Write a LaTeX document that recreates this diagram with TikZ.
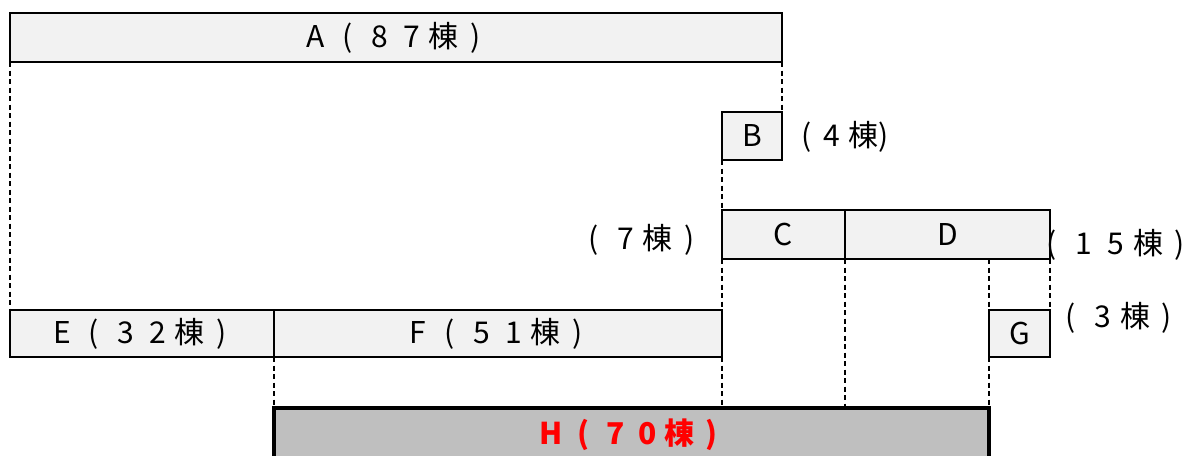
\documentclass[tikz,border=0pt]{standalone}
\usepackage{fontspec}
\setmainfont{Noto Sans CJK JP}
\usetikzlibrary{calc}
\definecolor{boxfill}{HTML}{F2F2F2}
\definecolor{hfill}{HTML}{BFBFBF}
\newcommand\fw[1]{\makebox[32pt]{#1}}
\tikzset{
  bx/.style={draw=black, fill=boxfill, line width=2pt, inner sep=0pt, outer sep=0pt, font=\fontsize{30}{34}\selectfont},
  hbx/.style={draw=black, fill=hfill, line width=3.5pt, inner sep=0pt, outer sep=0pt, text=red, font=\fontsize{30}{34}\selectfont\bfseries},
  lbl/.style={inner sep=0pt, font=\fontsize{30}{34}\selectfont},
  dsh/.style={line width=2.6pt, dash pattern=on 5pt off 3.5pt}
}
\begin{document}
\begin{tikzpicture}[x=1pt,y=-1pt]
\path[use as bounding box, clip] (0,0) rectangle (1190,455);
\fill[white] (0,0) rectangle (1190,455);
% boxes
\node[bx, minimum width=772pt, minimum height=49pt] (A) at (396,37.5) {\fw{A}\fw{(}\fw{8}\fw{7}\fw{棟}\fw{)}};
\node[bx, minimum width=60pt, minimum height=48pt] (B) at (752,136) {B};
\node[bx, minimum width=123pt, minimum height=49pt] (C) at (783.5,234.5) {C};
\node[bx, minimum width=205pt, minimum height=49pt] (D) at (947.5,234.5) {D};
\node[bx, minimum width=264pt, minimum height=47pt] (E) at (142,333.5) {\fw{E}\fw{(}\fw{3}\fw{2}\fw{棟}\fw{)}};
\node[bx, minimum width=448pt, minimum height=47pt] (F) at (498,333.5) {\fw{F}\fw{(}\fw{5}\fw{1}\fw{棟}\fw{)}};
\node[bx, minimum width=61pt, minimum height=47pt] (G) at (1019.5,333.5) {G};
\node[hbx, minimum width=715pt, minimum height=54pt] (H) at (631.5,435) {\fw{H}\fw{(}\fw{7}\fw{0}\fw{棟}\fw{)}};
% side labels
\node[lbl] (L4) at (845,137) {(\hspace{4pt}\fw{4}\makebox[30pt]{棟})};
\node[lbl] (L7) at (641.5,240) {\fw{(}\fw{7}\fw{棟}\fw{)}};
\node[lbl] (L15) at (1116,245) {\fw{(}\fw{1}\fw{5}\fw{棟}\fw{)}};
\node[lbl] (L3) at (1119,318) {\fw{(}\fw{3}\fw{棟}\fw{)}};
% dashed connectors
\draw[dsh] (A.south west) -- (E.north west);
\draw[dsh] (A.south east) -- (B.north east);
\draw[dsh] (B.south west) -- (C.north west);
\draw[dsh] (C.south west) -- (F.north east);
\draw[dsh] (F.south east) -- (F.south east |- H.north);
\draw[dsh] (C.south east) -- (C.south east |- H.north);
\draw[dsh] (G.north west |- D.south) -- (G.north west);
\draw[dsh] (D.south east) -- (G.north east);
\draw[dsh] (G.south west) -- (H.north east);
\draw[dsh] (E.south east) -- (H.north west);
\end{tikzpicture}
\end{document}
